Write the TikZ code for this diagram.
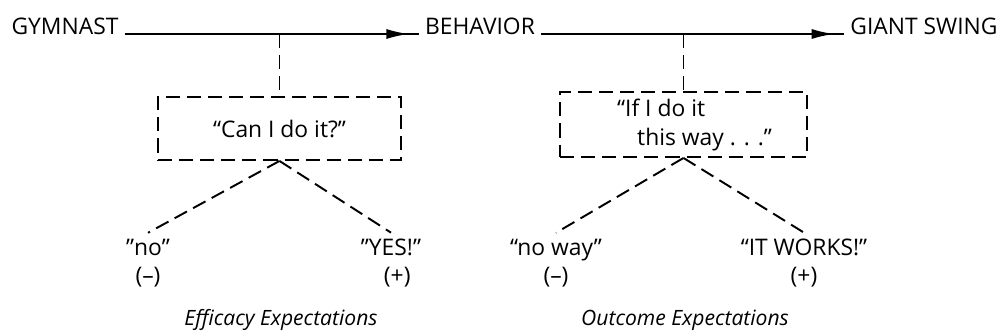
\documentclass[tikz,border=0pt]{standalone}
\usepackage{fontspec}
\setmainfont{Open Sans}
\usetikzlibrary{arrows.meta,decorations.markings}

\begin{document}
\begin{tikzpicture}[x=0.02cm, y=-0.02cm,
    every node/.style={font=\fontsize{13}{15}\selectfont},
    label/.style={align=center},
    caption/.style={font=\fontsize{12}{14}\selectfont\itshape},
    dashbox/.style={draw=black, line width=1.1pt, dash pattern=on 8pt off 4pt},
    dashline/.style={line width=1.1pt, dash pattern=on 8pt off 4pt},
    flow/.style={line width=1.1pt, postaction={decorate}, decoration={markings,
        mark=at position -0.2cm with {\arrow{Latex[length=0.45cm,width=0.2cm]}}}}]
    \useasboundingbox (0,0) rectangle (1004,335);
    % top row
    \draw (65, 34) node[anchor=base] (gym) {GYMNAST};
    \draw (480, 34) node[anchor=base] (beh) {BEHAVIOR};
    \draw (924, 34) node[anchor=base] (swing) {GIANT SWING};
    \draw[flow] (gym.base east) -- (beh.base west);
    \draw[flow] (beh.base east) -- (swing.base west);
    % boxes
    \draw (279.5, 128.5) node[dashbox, minimum width=4.86cm, minimum height=1.26cm] (box1) {``Can I do it?''};
    \draw (683.5, 124.5) node[dashbox, minimum width=4.94cm, minimum height=1.3cm] (box2) {};
    \draw (611, 125) node[anchor=west, align=left] (q2) {``If I do it\\[2pt]\hspace*{0.4cm}this way . . .''};
    \draw[dashline] (box1.north |- gym.base) -- (box1.north);
    \draw[dashline] (box2.north |- beh.base) -- (box2.north);
    % answers
    \draw (148, 263) node[label] (no1) {''no''\\[1pt](--)};
    \draw (391, 263) node[label] (yes1) {''YES!''\\[1pt]\hspace*{0.25cm}(+)};
    \draw (556, 263) node[label] (no2) {``no way''\\[1pt](--)};
    \draw (804, 263) node[label] (yes2) {``IT WORKS!''\\[1pt](+)};
    \draw[dashline] (box1.south) -- (no1.north);
    \draw[dashline] (box1.south) -- (yes1.north);
    \draw[dashline] (box2.south) -- (no2.north);
    \draw[dashline] (box2.south) -- (yes2.north);
    % captions
    \draw (281, 320) node[caption] (eff) {Efficacy Expectations};
    \draw (685, 320) node[caption] (out) {Outcome Expectations};
\end{tikzpicture}
\end{document}
